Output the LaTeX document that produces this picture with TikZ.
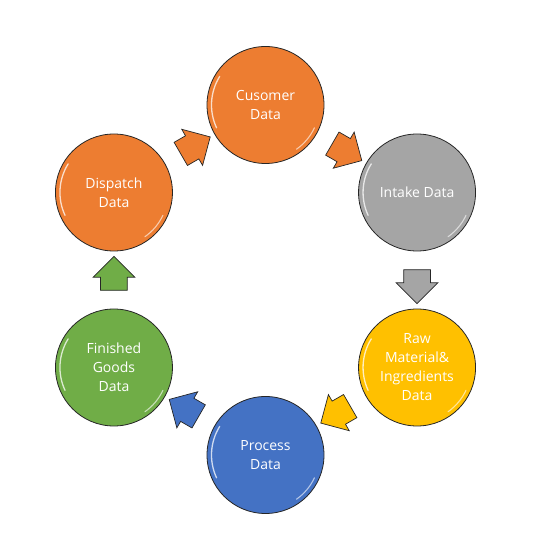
\documentclass[tikz,border=0pt]{standalone}
\usepackage{fontspec}
\newfontfamily\labelfont{Open Sans}
\usepackage{tikz}
\usetikzlibrary{arrows.meta,positioning,shapes,calc}
\definecolor{offorange}{RGB}{237,125,49}
\definecolor{offgray}{RGB}{165,165,165}
\definecolor{offyellow}{RGB}{255,192,0}
\definecolor{offblue}{RGB}{68,114,196}
\definecolor{offgreen}{RGB}{112,173,71}

\begin{document}
\begin{tikzpicture}[x=1pt, y=1pt,
    stage/.style={circle, draw=black!85, line width=0.8pt, fill=#1, minimum size=117pt, inner sep=0pt,
        align=center, text=white, font=\labelfont\fontsize{14}{19}\selectfont,
        path picture={
            \draw[white, line width=1.3pt, opacity=0.75, line cap=round]
                ($(path picture bounding box.center)+(148:54)$) arc (148:205:54);
            \draw[white, line width=1.1pt, opacity=0.6, line cap=round]
                ($(path picture bounding box.center)+(-25:54)$) arc (-25:-55:54);
        }},
    flow/.style={single arrow, draw=black!85, line width=0.7pt, fill=#1, minimum height=34pt,
        inner xsep=0pt, inner ysep=13pt, single arrow head extend=7.5pt},
]
\useasboundingbox (0,0) rectangle (537,550);

\coordinate (hub) at (265.5,270);

\node[stage=offorange] (cust) at ($(hub)+(90:175)$) {Cusomer\\Data};
\node[stage=offgray] (intake) at ($(hub)+(30:175)$) {Intake Data};
\node[stage=offyellow] (raw) at ($(hub)+(-30:175)$) {Raw\\Material\&\\Ingredients\\Data};
\node[stage=offblue] (proc) at ($(hub)+(-90:175)$) {Process\\Data};
\node[stage=offgreen] (fin) at ($(hub)+(-150:175)$) {Finished\\Goods\\Data};
\node[stage=offorange] (disp) at ($(hub)+(150:175)$) {Dispatch\\Data};

% block arrows between the stages
\node[flow=offorange, rotate=-30] (a1) at ($(cust)!0.5!(intake)$) {};
\node[flow=offgray, rotate=-90] (a2) at ($(intake)!0.5!(raw)$) {};
\node[flow=offyellow, rotate=-150] (a3) at ($(raw)!0.5!(proc)$) {};
\node[flow=offblue, rotate=150] (a4) at ($(proc)!0.5!(fin)$) {};
\node[flow=offgreen, rotate=90] (a5) at ($(fin)!0.5!(disp)$) {};
\node[flow=offorange, rotate=30] (a6) at ($(disp)!0.5!(cust)$) {};
\end{tikzpicture}
\end{document}
